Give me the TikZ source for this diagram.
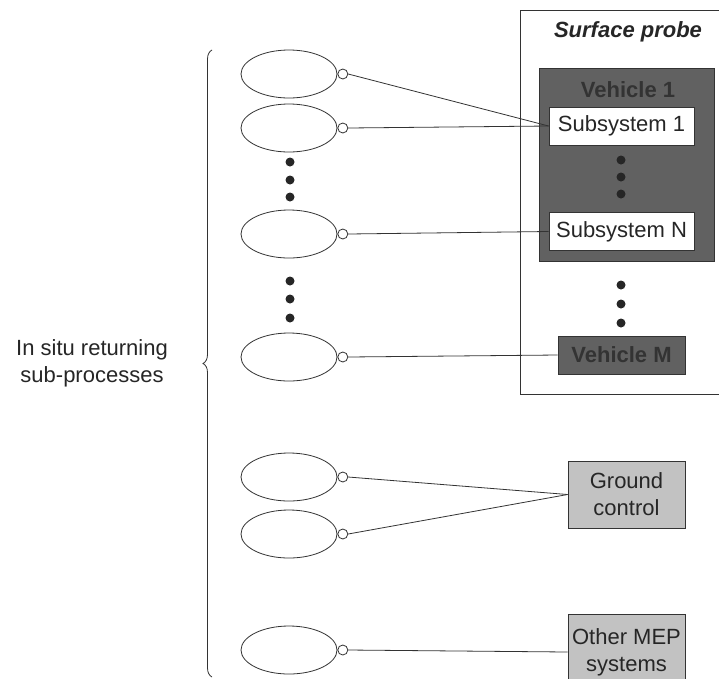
\documentclass[tikz,border=0pt]{standalone}
\usepackage{fontspec}
\setmainfont{Liberation Sans}
\usetikzlibrary{positioning, shapes.geometric, decorations.pathreplacing}
\definecolor{darkveh}{gray}{0.38}
\definecolor{lightbox}{gray}{0.76}
\definecolor{vehtext}{gray}{0.2}
\tikzset{
  every node/.style={font=\fontsize{22}{27}\selectfont, text=black!85},
  proc/.style={draw=black!80, line width=0.8pt, ellipse, minimum width=96pt, minimum height=48pt, inner sep=0pt},
  port/.style={draw=black!80, line width=0.8pt, circle, fill=white, minimum size=10pt, inner sep=0pt, anchor=west},
  subbox/.style={draw=black!80, line width=0.8pt, fill=white, minimum width=145pt, minimum height=38pt, inner sep=0pt},
  extbox/.style={draw=black!80, line width=0.8pt, fill=lightbox, minimum width=117pt, inner sep=0pt, align=center},
  conn/.style={draw=black!80, line width=0.8pt},
  dot/.style={fill=black!85}
}
\begin{document}
\begin{tikzpicture}[x=1pt,y=-1pt]
\clip (0,0) rectangle (719,678);
\fill[white] (0,0) rectangle (719,678);

% surface probe and vehicles
\node[draw=black!80, line width=0.8pt, minimum width=216pt, minimum height=384pt, inner sep=0pt] (probe) at (628,202) {};
\node[font=\fontsize{22}{27}\selectfont\bfseries\itshape] (probelbl) at (628,32) {Surface probe};
\node[draw=black!80, line width=0.8pt, fill=darkveh, minimum width=175pt, minimum height=193pt, inner sep=0pt] (veh1) at (626.5,164.5) {};
\node[font=\fontsize{22}{27}\selectfont\bfseries, text=vehtext] (veh1lbl) at (628,90) {Vehicle 1};
\node[subbox] (s1) at (621.5,126) {Subsystem 1};
\node[subbox] (sN) at (621.5,231.5) {Subsystem N};
\node[draw=black!80, line width=0.8pt, fill=darkveh, minimum width=127pt, minimum height=38pt, inner sep=0pt, font=\fontsize{22}{27}\selectfont\bfseries, text=vehtext] (vehM) at (621.5,355) {Vehicle M};

\node[extbox, minimum height=67pt] (ground) at (626.5,494.5) {Ground\\control};
\node[extbox, minimum height=76pt] (other) at (626.5,652) {Other MEP\\systems};

% sub-processes
\node[proc] (e1) at (289,74) {};
\node[proc] (e2) at (289,128) {};
\node[proc] (e3) at (289,234) {};
\node[proc] (e4) at (289,357) {};
\node[proc] (e5) at (289,477) {};
\node[proc] (e6) at (289,534) {};
\node[proc] (e7) at (289,650) {};
\foreach \i in {1,...,7}
  \node[port] (p\i) at (e\i.east) {};

\foreach \y in {162,180,197,281,299,318}
  \fill[dot] (290,\y) circle (4.5pt);
\foreach \y in {160,177,194,285,304,323}
  \fill[dot] (621,\y) circle (4.5pt);

\draw[conn] (p1.east) -- (s1.west);
\draw[conn] (p2.east) -- (s1.west);
\draw[conn] (p3.east) -- (sN.west);
\draw[conn] (p4.east) -- (vehM.west);
\draw[conn] (p5.east) -- (ground.west);
\draw[conn] (p6.east) -- (ground.west);
\draw[conn] (p7.east) -- (other.west);

% brace
\coordinate (bracetop) at (212,50);
\coordinate (bracebot) at (212,677);
\draw[black!80, line width=0.8pt, decorate, decoration={brace, amplitude=9pt}] (bracebot) -- (bracetop);
\node[align=center] (insitu) at (92,363.5) {In situ returning\\sub-processes};
\end{tikzpicture}
\end{document}
